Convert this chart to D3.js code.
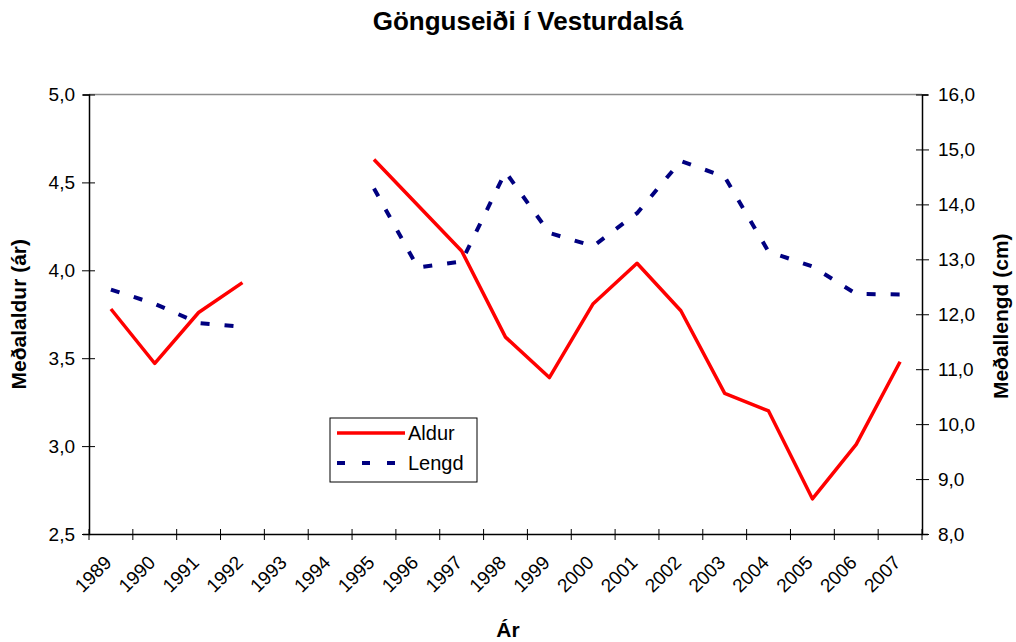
<!DOCTYPE html>
<html lang="is">
<head>
  <meta charset="UTF-8">
  <script src="https://d3js.org/d3.v7.min.js"></script>
  <title>Gönguseiði í Vesturdalsá</title>
  <style>
    body { margin: 0; background: #fff; }
    text { font-family: Arial, "Liberation Sans", sans-serif; fill: #000; }
  </style>
</head>
<body>
  <div id="wrapper"></div>
  <script>
    // years on the x axis
    const years = ["1989","1990","1991","1992","1993","1994","1995","1996","1997","1998",
                   "1999","2000","2001","2002","2003","2004","2005","2006","2007"]
    // mean age (years), left axis; null = no data
    const aldur = [3.78, 3.47, 3.76, 3.93, null, null, 4.63, 4.37, 4.11, 3.62,
                   3.39, 3.81, 4.04, 3.77, 3.30, 3.20, 2.70, 3.01, 3.48]
    // mean length (cm), right axis
    const lengd = [12.45, 12.19, 11.84, 11.77, null, null, 14.29, 12.85, 12.96, 14.59,
                   13.48, 13.24, 13.84, 14.79, 14.50, 13.14, 12.87, 12.37, 12.36]
    const leftTicks = [2.5, 3.0, 3.5, 4.0, 4.5, 5.0]
    const rightTicks = [8, 9, 10, 11, 12, 13, 14, 15, 16]

    const dimensions = {
      width: 1016,
      height: 642,
      margin: { top: 94.5, right: 94, bottom: 108, left: 89 }
    }
    dimensions.boundedWidth = dimensions.width - dimensions.margin.left - dimensions.margin.right
    dimensions.boundedHeight = dimensions.height - dimensions.margin.top - dimensions.margin.bottom

    const fmt = (d, n) => d.toFixed(n).replace(".", ",")

    const svg = d3.select("#wrapper")
        .append("svg")
        .attr("width", dimensions.width)
        .attr("height", dimensions.height)

    const bounds = svg.append("g")
        .attr("transform", `translate(${dimensions.margin.left},${dimensions.margin.top})`)

    const xScale = d3.scaleBand()
        .domain(years)
        .range([0, dimensions.boundedWidth])

    const yLeft = d3.scaleLinear()
        .domain([2.5, 5.0])
        .range([dimensions.boundedHeight, 0])

    const yRight = d3.scaleLinear()
        .domain([8, 16])
        .range([dimensions.boundedHeight, 0])

    // top border of plot area
    bounds.append("line")
        .attr("x1", 0).attr("x2", dimensions.boundedWidth)
        .attr("y1", 0).attr("y2", 0)
        .attr("stroke", "#8c8c8c")
        .attr("stroke-width", 1.5)

    /* Axes */
    const xAxis = bounds.append("g")
        .attr("transform", `translate(0,${dimensions.boundedHeight})`)
        .call(d3.axisBottom(xScale).tickSize(0).tickFormat(""))
    xAxis.select(".domain").attr("stroke", "#000").attr("stroke-width", 1.5)

    // category boundary ticks
    const edges = years.map(y => xScale(y)).concat([dimensions.boundedWidth])
    xAxis.selectAll(".edge")
        .data(edges)
        .join("line")
        .attr("class", "edge")
        .attr("x1", d => d).attr("x2", d => d)
        .attr("y1", -5).attr("y2", 6)
        .attr("stroke", "#000")

    xAxis.selectAll(".ylab")
        .data(years)
        .join("text")
        .attr("class", "ylab")
        .attr("transform", d => `translate(${xScale(d) + xScale.bandwidth() / 2 - 3},${25}) rotate(-45)`)
        .attr("text-anchor", "end")
        .attr("dy", "0.35em")
        .style("font-size", "19px")
        .text(d => d)

    const leftAxis = bounds.append("g")
        .call(d3.axisLeft(yLeft).tickValues(leftTicks).tickSize(6).tickPadding(8)
          .tickFormat(d => fmt(d, 1)))
    leftAxis.select(".domain").attr("stroke", "#000").attr("stroke-width", 1.5)
    leftAxis.selectAll(".tick line").attr("x2", -7).attr("x1", 6)
    leftAxis.selectAll("text").style("font-size", "19px").attr("fill", "#000")

    const rightAxis = bounds.append("g")
        .attr("transform", `translate(${dimensions.boundedWidth},0)`)
        .call(d3.axisRight(yRight).tickValues(rightTicks).tickSize(6).tickPadding(10)
          .tickFormat(d => fmt(d, 1)))
    rightAxis.select(".domain").attr("stroke", "#000").attr("stroke-width", 1.5)
    rightAxis.selectAll(".tick line").attr("x1", -6).attr("x2", 7)
    rightAxis.selectAll("text").style("font-size", "19px").attr("fill", "#000")

    /* Lines */
    const cx = i => xScale(years[i]) + xScale.bandwidth() / 2

    const aldurLine = d3.line()
        .defined(d => d != null)
        .x((d, i) => cx(i))
        .y(d => yLeft(d))

    const lengdLine = d3.line()
        .defined(d => d != null)
        .x((d, i) => cx(i))
        .y(d => yRight(d))

    bounds.append("path")
        .datum(lengd)
        .attr("d", lengdLine)
        .attr("fill", "none")
        .attr("stroke", "#000080")
        .attr("stroke-width", 4)
        .attr("stroke-dasharray", "9,15")

    bounds.append("path")
        .datum(aldur)
        .attr("d", aldurLine)
        .attr("fill", "none")
        .attr("stroke", "#ff0000")
        .attr("stroke-width", 3.5)
        .attr("stroke-linejoin", "round")

    /* Legend */
    const legend = svg.append("g").attr("transform", "translate(330,418)")
    legend.append("rect")
        .attr("width", 147).attr("height", 64)
        .attr("fill", "#fff").attr("stroke", "#000").attr("stroke-width", 1)
    const items = [
      { name: "Aldur", color: "#ff0000", dash: null, w: 3.5 },
      { name: "Lengd", color: "#000080", dash: "8,17", w: 4 }
    ]
    items.forEach((it, i) => {
      const y = 15 + i * 30
      legend.append("line")
          .attr("x1", 7).attr("x2", 75)
          .attr("y1", y).attr("y2", y)
          .attr("stroke", it.color)
          .attr("stroke-width", it.w)
          .attr("stroke-dasharray", it.dash)
      legend.append("text")
          .attr("x", 78).attr("y", y)
          .attr("dy", "0.35em")
          .style("font-size", "20px")
          .text(it.name)
    })

    /* Titles */
    svg.append("text")
        .attr("x", 528).attr("y", 30)
        .attr("text-anchor", "middle")
        .style("font-size", "26px").style("font-weight", "bold")
        .text("Gönguseiði í Vesturdalsá")

    svg.append("text")
        .attr("transform", `translate(26,${dimensions.margin.top + dimensions.boundedHeight / 2}) rotate(-90)`)
        .attr("text-anchor", "middle")
        .style("font-size", "21px").style("font-weight", "bold")
        .text("Meðalaldur (ár)")

    svg.append("text")
        .attr("transform", `translate(1008,${dimensions.margin.top + dimensions.boundedHeight / 2 + 2}) rotate(-90)`)
        .attr("text-anchor", "middle")
        .style("font-size", "21px").style("font-weight", "bold")
        .text("Meðallengd (cm)")

    svg.append("text")
        .attr("x", 508).attr("y", 637)
        .attr("text-anchor", "middle")
        .style("font-size", "21px").style("font-weight", "bold")
        .text("Ár")
  </script>
</body>
</html>
